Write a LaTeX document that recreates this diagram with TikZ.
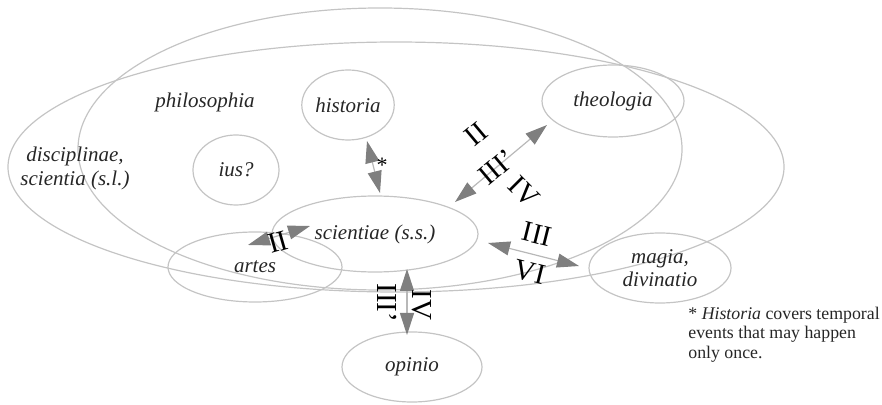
\documentclass[tikz,border=0pt]{standalone}
\usepackage{fontspec}
\setmainfont{Liberation Serif}
\usetikzlibrary{arrows.meta,shapes.geometric}
\definecolor{ringc}{HTML}{C4C4C4}
\definecolor{headc}{HTML}{7F7F7F}
\definecolor{linec}{HTML}{B8B8B8}
\definecolor{txtc}{HTML}{262626}
\begin{document}
\begin{tikzpicture}[x=0.5pt,y=-0.5pt,
  ring/.style={ellipse, draw=ringc, line width=0.6pt, inner sep=0pt, text=txtc,
    font=\fontsize{10.5}{12}\selectfont\itshape, align=center},
  lbl/.style={text=txtc, font=\fontsize{10.5}{12}\selectfont\itshape, align=center, inner sep=0pt},
  num/.style={text=black, font=\fontsize{14.5}{15}\selectfont, inner sep=0pt},
  dbl/.style={draw=linec, line width=0.6pt,
    {Triangle[length=11pt,width=7pt,color=headc]}-{Triangle[length=11pt,width=7pt,color=headc]}},
  note/.style={text=txtc, font=\fontsize{8.9}{9.6}\selectfont, align=left, inner sep=0pt}]
\useasboundingbox (0,0) rectangle (882,405);
% large regions
\node[ring, minimum width=302pt, minimum height=141pt] (philo) at (380,149) {};
\node[ring, minimum width=388pt, minimum height=125pt] (disc) at (396,167) {};
\node[lbl] (philolbl) at (205,102) {philosophia};
\node[lbl] (disclbl) at (75,168) {disciplinae,\\scientia (s.l.)};
% small regions
\node[ring, minimum width=43pt, minimum height=35pt] (hist) at (348,105) {historia};
\node[ring, minimum width=43pt, minimum height=35pt] (ius) at (236,170) {ius?};
\node[ring, minimum width=71pt, minimum height=36pt] (theo) at (613,101) {theologia};
\node[ring, minimum width=103pt, minimum height=38pt] (sci) at (375,234) {scientiae (s.s.)};
\node[ring, minimum width=87pt, minimum height=35pt] (artes) at (255,267) {artes};
\node[ring, minimum width=70pt, minimum height=35pt] (opin) at (412,367) {opinio};
\node[ring, minimum width=71pt, minimum height=35pt, font=\fontsize{10.5}{11.5}\selectfont\itshape] (magia) at (660,268) {magia,\\divinatio};
% arrow end points
\coordinate (hA) at (367,141);
\coordinate (hB) at (380,193);
\coordinate (tA) at (455,202);
\coordinate (tB) at (547,125);
\coordinate (aA) at (248,245);
\coordinate (aB) at (310,226);
\coordinate (oA) at (407,269);
\coordinate (oB) at (407,335);
\coordinate (mA) at (488,243);
\coordinate (mB) at (579,266);
% arrows
\draw[dbl] (hA) -- (hB);
\draw[dbl] (tA) -- (tB);
\draw[dbl] (aA) -- (aB);
\draw[dbl] (oA) -- (oB);
\draw[dbl] (mA) -- (mB);
% arrow labels
\node[text=black, font=\fontsize{11}{12}\selectfont, inner sep=0pt] (star) at (382,165) {*};
\node[num, rotate=40] (t1) at (476,134) {II};
\node[num, rotate=40] (t2) at (497,167) {III'};
\node[num, rotate=-45] (t3) at (524,192) {IV};
\node[num, rotate=16] (a1) at (278,242) {II};
\node[num, rotate=-90] (o1) at (387,303) {III'};
\node[num, rotate=-90] (o2) at (422,305) {IV};
\node[num, rotate=-14] (m1) at (537,234) {III};
\node[num, rotate=-14] (m2) at (530,272) {VI};
% footnote
\node[note, anchor=north west] (fn) at (688,307) {* \textit{Historia} covers temporal\\events that may happen\\only once.};
\end{tikzpicture}
\end{document}
